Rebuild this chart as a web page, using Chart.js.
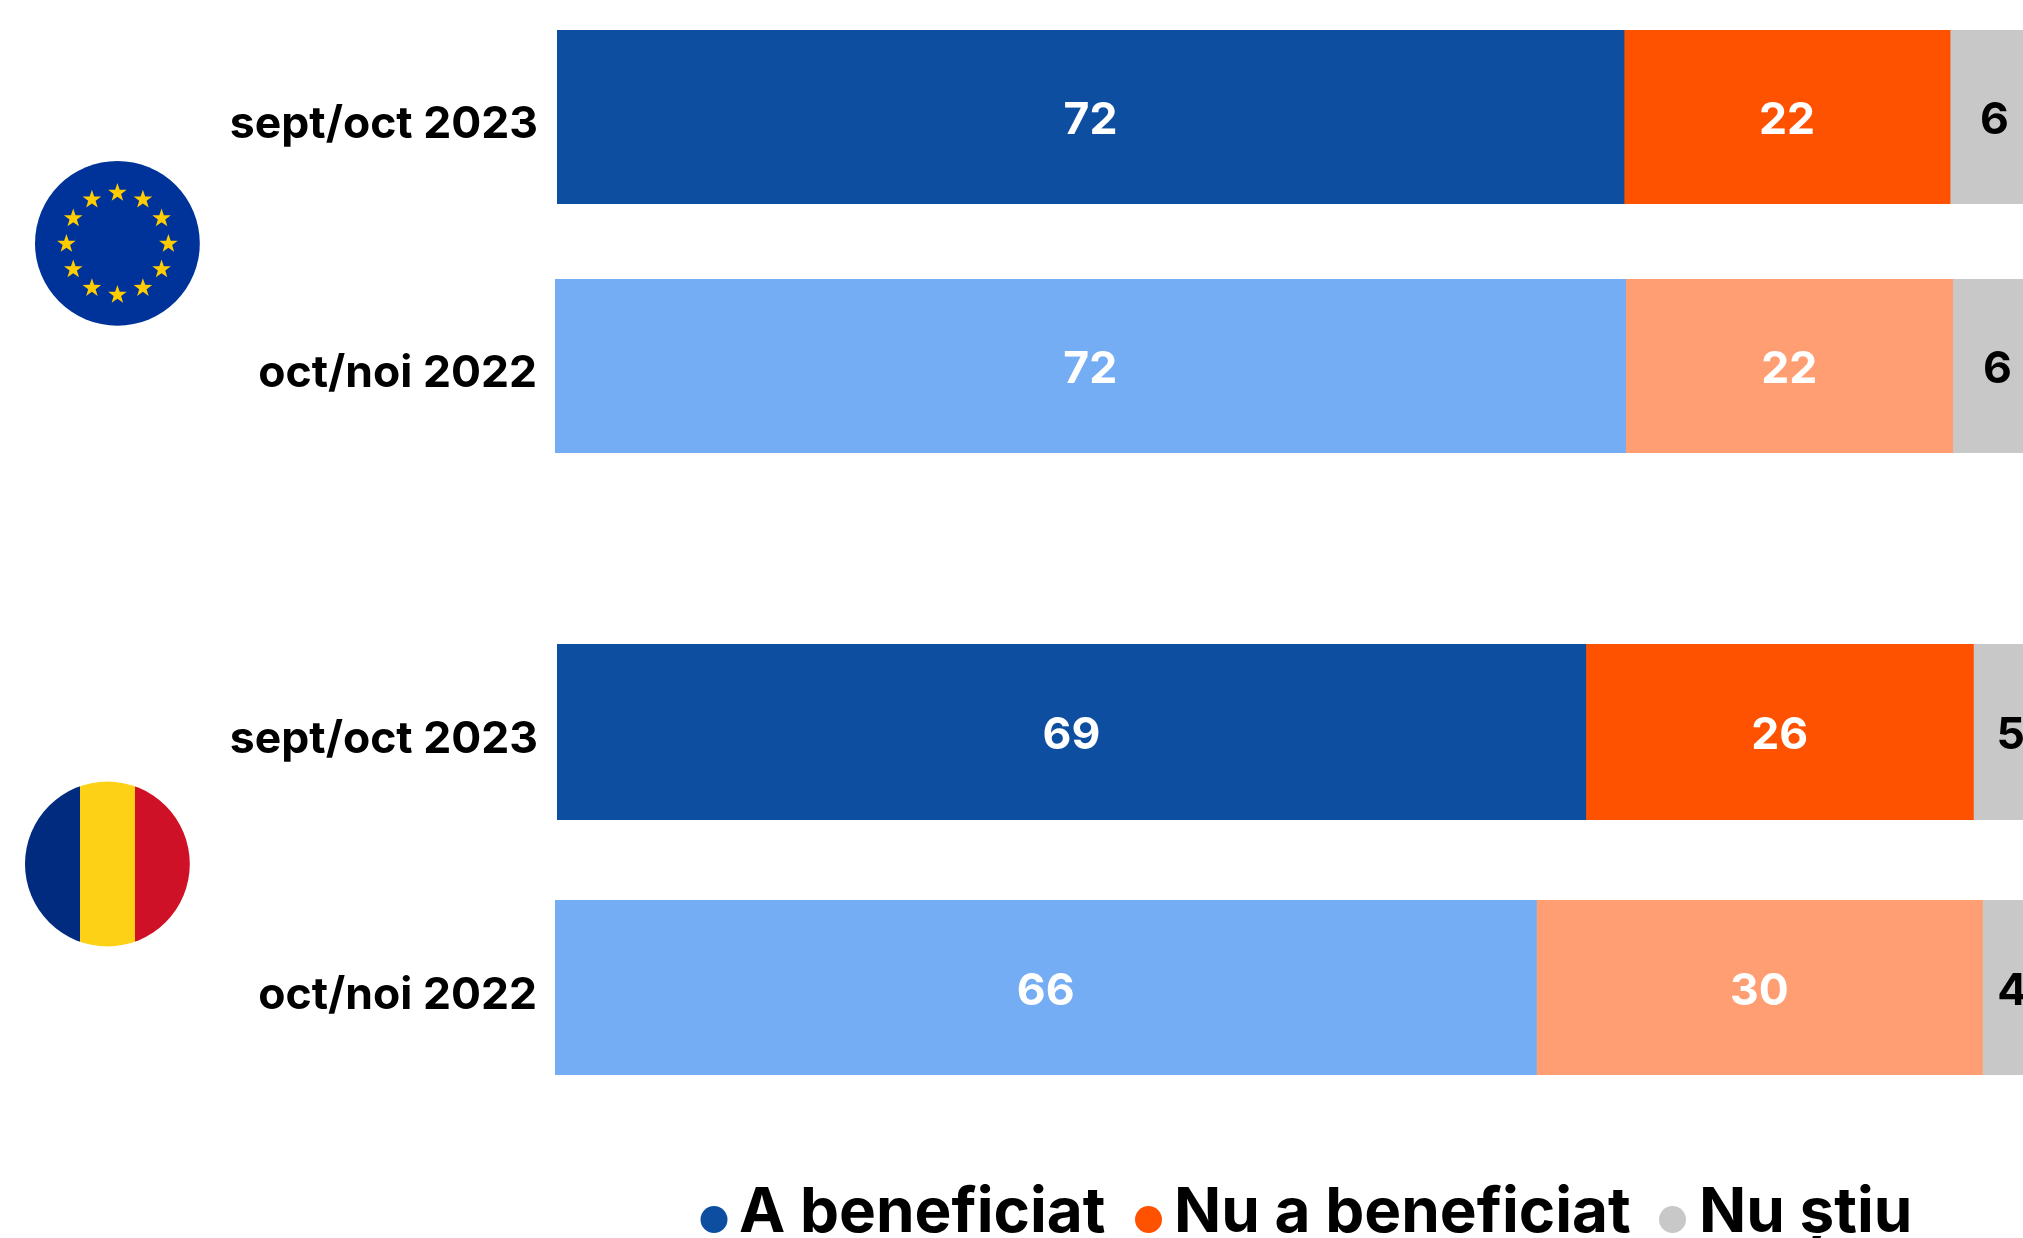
<!DOCTYPE html>
<html><head><meta charset="utf-8">
<script src="https://cdn.jsdelivr.net/npm/chart.js@4"></script>
<style>
html,body{margin:0;padding:0;background:#fff;width:2023px;height:1238px;overflow:hidden}
canvas{position:absolute;left:0}
svg{position:absolute;left:0;top:0}
text{font-family:Inter,sans-serif;font-weight:700;fill:#000}
</style></head>
<body>
<svg id="overlay" width="2023" height="1238" xmlns="http://www.w3.org/2000/svg"></svg>
<script>
const categories = ['sept/oct 2023','oct/noi 2022','sept/oct 2023','oct/noi 2022'];
const seriesNames = ['A beneficiat','Nu a beneficiat','Nu știu'];
const aBeneficiat = [72,72,69,66];
const nuABeneficiat = [22,22,26,30];
const nuStiu = [6,6,5,4];

const COLORS_2023 = ['#0D4EA1','#FF5200','#C8C8C8'];
const COLORS_2022 = ['#75ADF5','#FF9E73','#C8C8C8'];
const LABEL_COLORS = ['#fff','#fff','#000'];
const FONT = 'Inter, sans-serif';
const rowColors = [COLORS_2023,COLORS_2022,COLORS_2023,COLORS_2022];
// layout only: canvas placement and horizontal scale of each row
const rowLayout = [
  {top:30, height:174, left:557, perUnit:14.82, pad:20},
  {top:279,height:174, left:555, perUnit:14.87, pad:19},
  {top:644,height:176, left:557, perUnit:14.91, pad:20},
  {top:900,height:175, left:555, perUnit:14.87, pad:19}
];

const barValueLabels = {
  id:'barValueLabels',
  afterDatasetsDraw(chart){
    const ctx = chart.ctx;
    ctx.save();
    ctx.font = '700 44.5px '+FONT;
    ctx.textAlign = 'center';
    ctx.textBaseline = 'middle';
    chart.data.datasets.forEach((ds,i)=>{
      chart.getDatasetMeta(i).data.forEach((el,j)=>{
        const c = el.getCenterPoint();
        ctx.fillStyle = LABEL_COLORS[i];
        ctx.fillText(String(ds.data[j]), c.x, c.y+4);
      });
    });
    ctx.restore();
  }
};

categories.forEach((cat,r)=>{
  const L = rowLayout[r];
  const cv = document.createElement('canvas');
  cv.width = 2023; cv.height = L.height;
  cv.style.top = L.top+'px';
  cv.style.width = '2023px'; cv.style.height = L.height+'px';
  document.body.appendChild(cv);
  const series = [aBeneficiat,nuABeneficiat,nuStiu];
  new Chart(cv,{
    type:'bar',
    data:{
      labels:[cat],
      datasets:series.map((s,i)=>({
        label:seriesNames[i],
        data:[s[r]],
        backgroundColor:rowColors[r][i],
        borderWidth:0,
        barPercentage:1,
        categoryPercentage:1
      }))
    },
    plugins:[barValueLabels],
    options:{
      indexAxis:'y',
      responsive:false,
      animation:false,
      devicePixelRatio:1,
      layout:{padding:0},
      plugins:{legend:{display:false},tooltip:{enabled:false},title:{display:false}},
      scales:{
        x:{display:false,stacked:true,min:0,max:(2023-L.left)/L.perUnit},
        y:{
          stacked:true,
          grid:{display:false,drawTicks:false},
          border:{display:false},
          afterFit(a){a.width=L.left;a.paddingTop=0;a.paddingBottom=0;},
          ticks:{color:'#000',font:{family:FONT,weight:'700',size:44.5},padding:L.pad-1,labelOffset:8}
        }
      }
    }
  });
});

// flags and legend
const NS='http://www.w3.org/2000/svg';
const svg=document.getElementById('overlay');
function el(n,a,t){const e=document.createElementNS(NS,n);for(const k in a)e.setAttribute(k,a[k]);if(t)e.textContent=t;svg.appendChild(e);return e;}
// EU flag
el('circle',{cx:117.4,cy:243.3,r:82.4,fill:'#003399'});
for(let i=0;i<12;i++){
  const a=i*Math.PI/6, cx=117.4+51*Math.sin(a), cy=243.8-51*Math.cos(a);
  let p=[];
  for(let k=0;k<10;k++){
    const rr=k%2?3.9:9.8, b=k*Math.PI/5;
    p.push((cx+rr*Math.sin(b)).toFixed(2)+','+(cy-rr*Math.cos(b)).toFixed(2));
  }
  el('polygon',{points:p.join(' '),fill:'#FFCC00'});
}
// Romanian flag
const defs=el('defs',{});
const cp=document.createElementNS(NS,'clipPath');cp.setAttribute('id','ro');
const cc=document.createElementNS(NS,'circle');cc.setAttribute('cx',107.4);cc.setAttribute('cy',864);cc.setAttribute('r',82.4);
cp.appendChild(cc);defs.appendChild(cp);
el('rect',{x:20,y:780,width:60,height:170,fill:'#002B7F','clip-path':'url(#ro)'});
el('rect',{x:80,y:780,width:55,height:170,fill:'#FCD116','clip-path':'url(#ro)'});
el('rect',{x:135,y:780,width:60,height:170,fill:'#CE1126','clip-path':'url(#ro)'});
// legend
const legendDotX=[714,1148.5,1672.5];
const legendTextX=[739,1174,1699];
seriesNames.forEach((n,i)=>{
  el('circle',{cx:legendDotX[i],cy:1219.5,r:13.5,fill:COLORS_2023[i]});
  el('text',{x:legendTextX[i],y:1232,'font-size':62},n);
});
</script>
</body></html>
